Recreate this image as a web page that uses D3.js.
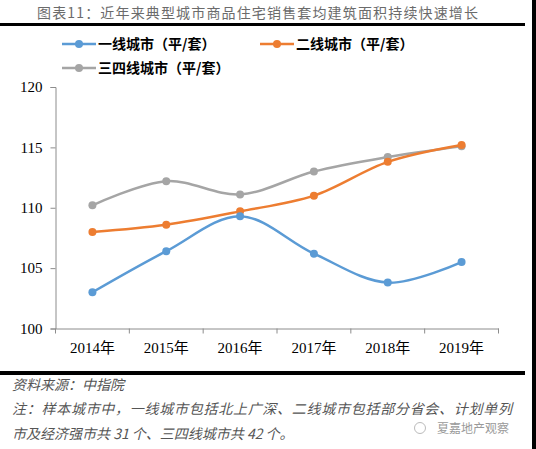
<!DOCTYPE html>
<html><head><meta charset="utf-8">
<script src="https://cdn.jsdelivr.net/npm/d3@7/dist/d3.min.js"></script>
<style>
body{margin:0;background:#fff;}
svg{display:block;}
</style></head>
<body><svg id="c" width="536" height="449"></svg>
<script>
const years = ["2014年","2015年","2016年","2017年","2018年","2019年"];
const tier1 = [103.0, 106.4, 109.3, 106.2, 103.8, 105.5];
const tier2 = [108.0, 108.6, 109.7, 111.0, 113.8, 115.2];
const tier34 = [110.2, 112.2, 111.1, 113.0, 114.2, 115.1];
const seriesNames = ["一线城市（平/套）","二线城市（平/套）","三四线城市（平/套）"];
const yTicks = [100,105,110,115,120];
const colors = ["#5B9BD5","#ED7D31","#A5A5A5"];

const svg = d3.select("#c");
const cjk = "'Noto Sans CJK SC', 'Noto Sans', sans-serif";
const serif = "'Liberation Serif', 'Noto Sans CJK SC', serif";

// title
svg.append("text").attr("x",37).attr("y",18).attr("font-family",cjk).attr("font-size",14)
  .attr("fill","#6b6b6b").attr("textLength",441).attr("lengthAdjust","spacing")
  .text("图表11：近年来典型城市商品住宅销售套均建筑面积持续快速增长");
svg.append("rect").attr("x",0).attr("y",23).attr("width",525).attr("height",3).attr("fill","#000");
svg.append("rect").attr("x",0).attr("y",371).attr("width",525).attr("height",4).attr("fill","#000");
svg.append("rect").attr("x",532).attr("y",0).attr("width",4).attr("height",449).attr("fill","#000");

const x = d3.scaleBand().domain(years).range([55.5,498.5]);
const y = d3.scaleLinear().domain([100,120]).range([328.5,87]);

// y axis
const ya = svg.append("g").attr("transform","translate(55.5,0)")
  .call(d3.axisLeft(y).tickValues(yTicks).tickSize(5).tickPadding(8));
ya.select(".domain").attr("stroke","#8c8c8c");
ya.selectAll(".tick line").attr("stroke","#8c8c8c");
ya.selectAll("text").attr("font-family",serif).attr("font-size",15).attr("fill","#000");

// x axis
const xa = svg.append("g").attr("transform","translate(0,328.5)")
  .call(d3.axisBottom(x).tickSize(0).tickPadding(14));
xa.select(".domain").attr("stroke","#8c8c8c");
xa.selectAll("text").attr("font-family",serif).attr("font-size",15).attr("fill","#000");
const bounds = years.map(d=>x(d)).concat([x.range()[1]]);
xa.selectAll(".bt").data(bounds).enter().append("line")
  .attr("x1",d=>d).attr("x2",d=>d).attr("y1",0).attr("y2",5).attr("stroke","#8c8c8c");

const cx = d => x(d) + x.bandwidth()/2;
const line = d3.line().x((d,i)=>cx(years[i])).y(d=>y(d)).curve(d3.curveCatmullRom.alpha(0.5));
const all = [tier1, tier2, tier34];
[2,1,0].forEach(k=>{
  svg.append("path").attr("d",line(all[k])).attr("fill","none").attr("stroke",colors[k]).attr("stroke-width",2.5);
  svg.selectAll(".m"+k).data(all[k]).enter().append("circle")
    .attr("cx",(d,i)=>cx(years[i])).attr("cy",d=>y(d)).attr("r",4).attr("fill",colors[k]);
});

// legend
const legPos = [[62,44],[260,44],[62,68]];
seriesNames.forEach((n,k)=>{
  const [lx,ly] = legPos[k];
  const g = svg.append("g");
  g.append("line").attr("x1",lx).attr("x2",lx+34).attr("y1",ly).attr("y2",ly).attr("stroke",colors[k]).attr("stroke-width",2.5);
  g.append("circle").attr("cx",lx+17).attr("cy",ly).attr("r",4).attr("fill",colors[k]);
  g.append("text").attr("x",lx+36).attr("y",ly+5).attr("font-family",cjk).attr("font-size",14)
    .attr("font-weight","bold").attr("fill","#000").text(n);
});

// footer
const foot = [
  ["资料来源：中指院",12,390],
  ["注：样本城市中，一线城市包括北上广深、二线城市包括部分省会、计划单列",12,414],
  ["市及经济强市共 31 个、三四线城市共 42 个。",12,439]
];
foot.forEach(([t,fx,fy],i)=>{
  const tx = svg.append("text").attr("x",fx).attr("y",fy).attr("font-family",cjk).attr("font-size",14)
    .attr("font-style","italic").attr("fill","#555").text(t);
  if(i===1) tx.attr("textLength",500).attr("lengthAdjust","spacing");
});
// watermark
svg.append("circle").attr("cx",420).attr("cy",428).attr("r",5.5).attr("fill","none").attr("stroke","#bbb").attr("stroke-width",1);
svg.append("text").attr("x",437).attr("y",433).attr("font-family",cjk).attr("font-size",12)
  .attr("fill","#9a9a9a").text("夏嘉地产观察");
</script></body></html>
